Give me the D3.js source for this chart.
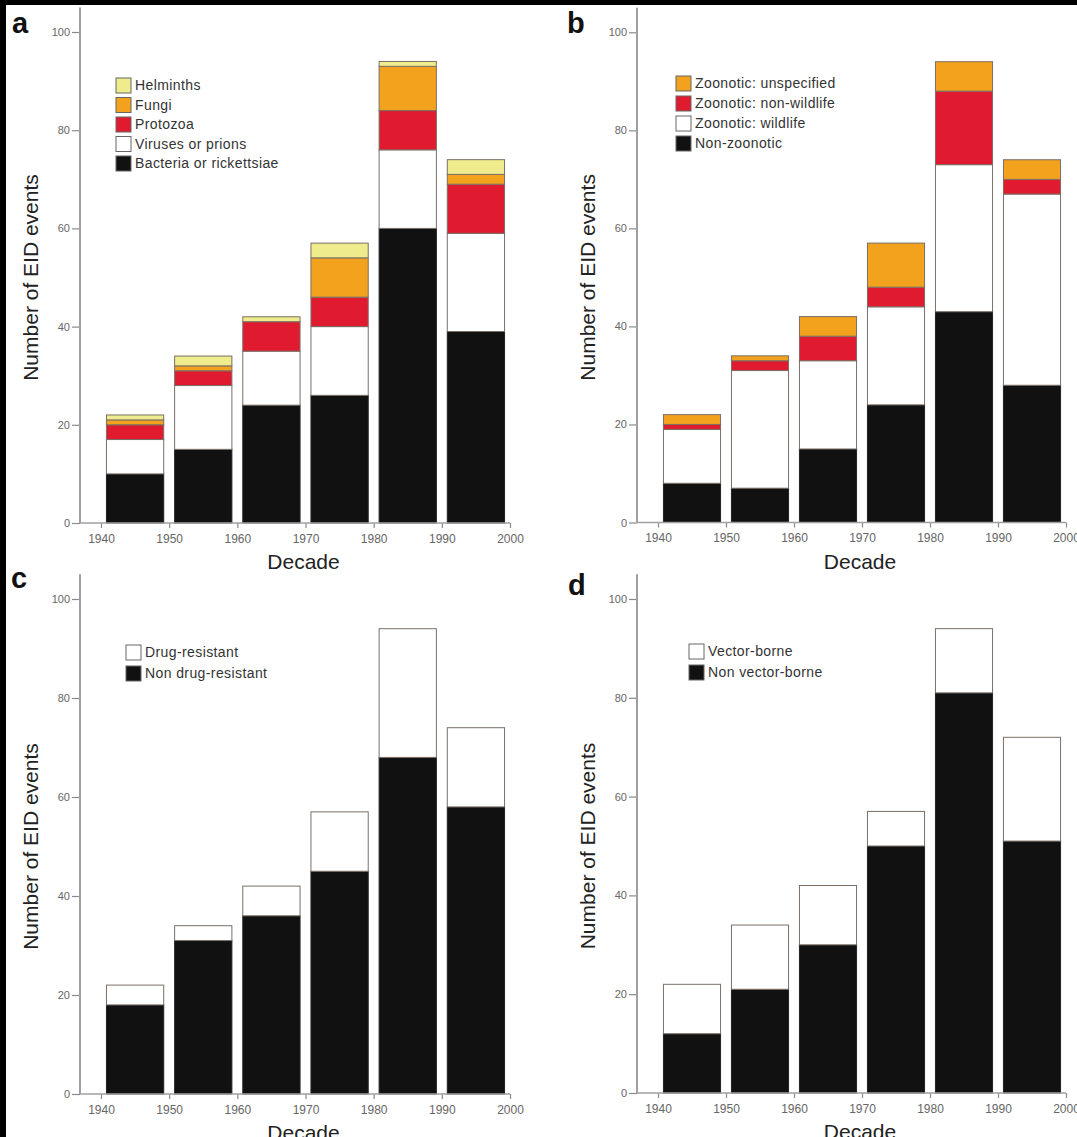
<!DOCTYPE html>
<html>
<head>
<meta charset="utf-8">
<script src="https://cdn.jsdelivr.net/npm/d3@7"></script>
<style>
  html, body { margin: 0; padding: 0; background: #000; }
  svg { display: block; }
  text { font-family: "Liberation Sans", Arial, sans-serif; }
</style>
</head>
<body>
<svg id="chart" width="1077" height="1137"></svg>
<script>
// ---------- data ----------
const decades = [1940, 1950, 1960, 1970, 1980, 1990];
const xTickValues = [1940, 1950, 1960, 1970, 1980, 1990, 2000];
const yTickValues = [0, 20, 40, 60, 80, 100];

// panel a: pathogen type (bottom to top)
const bacteria   = [10, 15, 24, 26, 60, 39];
const viruses    = [7, 13, 11, 14, 16, 20];
const protozoa   = [3, 3, 6, 6, 8, 10];
const fungi      = [1, 1, 0, 8, 9, 2];
const helminths  = [1, 2, 1, 3, 1, 3];

// panel b: transmission type
const nonZoonotic       = [8, 7, 15, 24, 43, 28];
const zoonoticWildlife  = [11, 24, 18, 20, 30, 39];
const zoonoticNonWild   = [1, 2, 5, 4, 15, 3];
const zoonoticUnspec    = [2, 1, 4, 9, 6, 4];

// panel c: drug resistance
const nonDrugResistant = [18, 31, 36, 45, 68, 58];
const drugResistant    = [4, 3, 6, 12, 26, 16];

// panel d: vector-borne
const nonVectorBorne = [12, 21, 30, 50, 81, 51];
const vectorBorne    = [10, 13, 12, 7, 13, 21];

// ---------- styling ----------
const C_BLACK = "#111111", C_WHITE = "#ffffff", C_RED = "#e01b2f",
      C_ORANGE = "#f3a21d", C_YELLOW = "#eeec8c";

const panels = [
  { letter: "a", lx: 12, ly: 33, axisX: 80, xr: [101, 510], yr: [523, 32],
    series: [
      { name: "Bacteria or rickettsiae", values: bacteria, color: C_BLACK },
      { name: "Viruses or prions", values: viruses, color: C_WHITE },
      { name: "Protozoa", values: protozoa, color: C_RED },
      { name: "Fungi", values: fungi, color: C_ORANGE },
      { name: "Helminths", values: helminths, color: C_YELLOW }
    ],
    legend: { x: 116, y: 78, step: 19.5 } },
  { letter: "b", lx: 567, ly: 33, axisX: 637, xr: [658, 1066], yr: [522.5, 32.3],
    series: [
      { name: "Non-zoonotic", values: nonZoonotic, color: C_BLACK },
      { name: "Zoonotic: wildlife", values: zoonoticWildlife, color: C_WHITE },
      { name: "Zoonotic: non-wildlife", values: zoonoticNonWild, color: C_RED },
      { name: "Zoonotic: unspecified", values: zoonoticUnspec, color: C_ORANGE }
    ],
    legend: { x: 676, y: 76, step: 20 } },
  { letter: "c", lx: 11, ly: 588, axisX: 80, xr: [101, 510], yr: [1094, 599],
    series: [
      { name: "Non drug-resistant", values: nonDrugResistant, color: C_BLACK },
      { name: "Drug-resistant", values: drugResistant, color: C_WHITE }
    ],
    legend: { x: 126, y: 645, step: 21 } },
  { letter: "d", lx: 568, ly: 595, axisX: 637, xr: [658, 1066], yr: [1093, 599],
    series: [
      { name: "Non vector-borne", values: nonVectorBorne, color: C_BLACK },
      { name: "Vector-borne", values: vectorBorne, color: C_WHITE }
    ],
    legend: { x: 689, y: 644, step: 21 } }
];

const svg = d3.select("#chart");
// white page with dark border at top / left like the reference scan
svg.append("rect").attr("x", 6).attr("y", 5).attr("width", 1077 - 6).attr("height", 1137 - 5).attr("fill", "#fff");

panels.forEach(p => {
  const g = svg.append("g");
  const x = d3.scaleLinear().domain([1940, 2000]).range(p.xr);
  const y = d3.scaleLinear().domain([0, 100]).range(p.yr);

  // stacked data
  const keys = p.series.map((s, i) => "s" + i);
  const rows = decades.map((d, j) => {
    const r = { decade: d };
    p.series.forEach((s, i) => { r["s" + i] = s.values[j]; });
    return r;
  });
  const stacked = d3.stack().keys(keys)(rows);

  stacked.forEach((layer, i) => {
    const col = p.series[i].color;
    g.append("g").selectAll("rect").data(layer.filter(d => d[1] - d[0] > 0)).join("rect")
      .attr("x", d => x(d.data.decade + 0.8))
      .attr("width", d => x(d.data.decade + 9.2) - x(d.data.decade + 0.8))
      .attr("y", d => y(d[1]))
      .attr("height", d => y(d[0]) - y(d[1]))
      .attr("fill", col)
      .attr("stroke", col === C_BLACK ? "#222" : "#7a6f66")
      .attr("stroke-width", 1);
  });

  // y axis
  const yAxis = d3.axisLeft(y).tickValues(yTickValues).tickSize(8).tickPadding(2).tickFormat(d3.format("d"));
  const ya = g.append("g").attr("transform", `translate(${p.axisX},0)`).call(yAxis);
  ya.select(".domain").remove();
  ya.append("line").attr("x1", 0).attr("x2", 0).attr("y1", y(0)).attr("y2", y(105))
    .attr("stroke", "#a0a0a0").attr("stroke-width", 2);
  ya.selectAll(".tick line").attr("stroke", "#8a8a8a").attr("stroke-width", 1.2);
  ya.selectAll(".tick text").attr("fill", "#666").style("font-size", "11px");

  // x axis
  const xAxis = d3.axisBottom(x).tickValues(xTickValues).tickSize(5).tickPadding(6).tickFormat(d3.format("d"));
  const xa = g.append("g").attr("transform", `translate(0,${y(0)})`).call(xAxis);
  xa.select(".domain").remove();
  xa.append("line").attr("x1", p.axisX).attr("x2", x(2000)).attr("y1", 0).attr("y2", 0)
    .attr("stroke", "#a0a0a0").attr("stroke-width", 1.5);
  xa.selectAll(".tick line").attr("stroke", "#8a8a8a").attr("stroke-width", 1.2);
  xa.selectAll(".tick text").attr("fill", "#666").style("font-size", "12px");

  // axis titles
  g.append("text").attr("x", (x(1940) + x(2000)) / 2 - 2).attr("y", y(0) + 46)
    .attr("text-anchor", "middle").style("font-size", "21px").attr("fill", "#222").text("Decade");
  g.append("text")
    .attr("transform", `translate(${p.axisX - 42},${y(50)}) rotate(-90)`)
    .attr("text-anchor", "middle").style("font-size", "21px").attr("fill", "#222")
    .text("Number of EID events");

  // panel letter
  g.append("text").attr("x", p.lx).attr("y", p.ly).style("font-size", "29px")
    .style("font-weight", "bold").attr("fill", "#111").text(p.letter);

  // legend (top series first)
  const legItems = p.series.slice().reverse();
  const lg = g.append("g").attr("transform", `translate(${p.legend.x},${p.legend.y})`);
  legItems.forEach((s, i) => {
    const row = lg.append("g").attr("transform", `translate(0,${i * p.legend.step})`);
    row.append("rect").attr("x", 0).attr("y", 0).attr("width", 15).attr("height", 15)
      .attr("fill", s.color).attr("stroke", "#666").attr("stroke-width", 1);
    row.append("text").attr("x", 19).attr("y", 12).style("font-size", "14px")
      .style("letter-spacing", "0.4px").attr("fill", "#333").text(s.name);
  });
});
</script>
</body>
</html>
